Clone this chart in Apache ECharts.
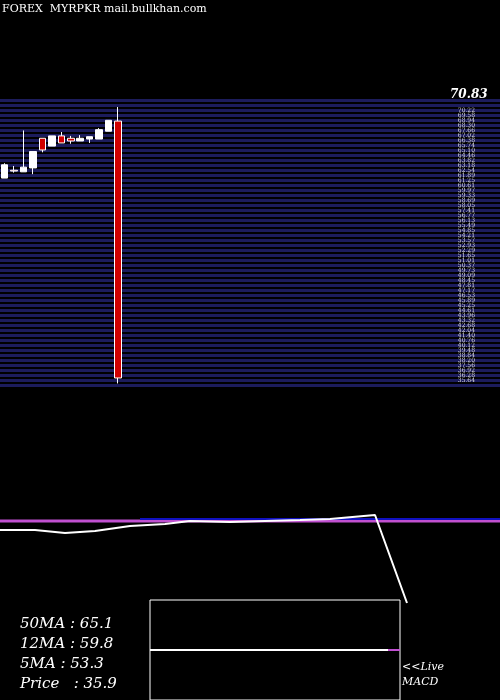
<!DOCTYPE html>
<html><head><meta charset="utf-8">
<script src="https://cdn.jsdelivr.net/npm/echarts@6/dist/echarts.min.js"></script>
<style>html,body{margin:0;background:#000}#c{width:500px;height:700px}</style>
</head><body><div id="c"></div>
<script>
const chart = echarts.init(document.getElementById('c'));

// candles: [open, close, low, high]
const candles = [
  [61.5, 63.2, 61.5, 63.4],
  [62.5, 62.4, 62.2, 63.05],
  [62.3, 62.9, 62.3, 67.6],
  [62.8, 64.9, 62.0, 64.9],
  [66.6, 65.1, 64.8, 66.6],
  [65.6, 66.9, 65.6, 66.9],
  [66.9, 66.0, 66.0, 67.4],
  [66.6, 66.25, 65.9, 66.9],
  [66.25, 66.6, 66.25, 67.0],
  [66.5, 66.8, 66.0, 66.8],
  [66.5, 67.7, 66.5, 67.9],
  [67.5, 68.9, 67.5, 68.9],
  [68.8, 35.9, 35.2, 70.6]
];
const slotCount = 53;
const categories = Array.from({length: slotCount}, (_, i) => String(i));
const priceMin = 35, priceMax = 71.5;
const levelCount = 57;

// MACD panel lines [x, value]
const macdWhite = [[0, 30], [35, 30], [65, 27], [95, 29], [130, 34], [165, 36], [190, 39],
  [230, 38], [265, 39], [300, 40], [330, 41], [375, 45], [407, -43]];
const macdBlue = [[140, 41], [500, 41]];
const macdMagenta = [[0, 39], [500, 39]];
const signalWhite = [[0, 0], [238, 0]];
const signalMagenta = [[238, 0], [250, 0]];

const stats = ['50MA : 65.1', '12MA : 59.8', '5MA : 53.3', 'Price   : 35.9'];

const serif = 'DejaVu Serif';
chart.setOption({
  backgroundColor: '#000',
  animation: false,
  grid: [
    {left: 0, right: 0, top: 100, height: 285},
    {left: 0, right: 0, top: 500, height: 120},
    {left: 150, width: 250, top: 600, height: 110, show: true, borderColor: '#fff', borderWidth: 1, backgroundColor: 'transparent'}
  ],
  xAxis: [
    {type: 'category', gridIndex: 0, data: categories, show: false},
    {type: 'value', gridIndex: 1, min: 0, max: 500, show: false},
    {type: 'value', gridIndex: 2, min: 0, max: 250, show: false}
  ],
  yAxis: [
    {type: 'value', gridIndex: 0, min: priceMin, max: priceMax, show: false},
    {type: 'value', gridIndex: 0, min: 0, max: levelCount, interval: 1, position: 'right',
      axisLine: {show: false}, axisTick: {show: false},
      splitLine: {show: true, lineStyle: {color: '#1c1c5c', width: 3}},
      axisLabel: {inside: true, margin: 25, color: '#ddd', fontSize: 6, fontFamily: serif,
        formatter: v => (v >= levelCount - 1 ? '' : (priceMin + v * (priceMax - priceMin) / levelCount).toFixed(2))}},
    {type: 'value', gridIndex: 1, min: -60, max: 60, show: false},
    {type: 'value', gridIndex: 2, min: -50, max: 50, show: false}
  ],
  series: [
    {type: 'candlestick', xAxisIndex: 0, yAxisIndex: 0, data: candles, barWidth: 7,
      itemStyle: {color: '#fff', borderColor: '#fff', color0: '#d00000', borderColor0: '#fff', borderWidth: 1}},
    {type: 'line', xAxisIndex: 1, yAxisIndex: 2, data: macdMagenta, symbol: 'none', lineStyle: {color: '#c050d0', width: 3}},
    {type: 'line', xAxisIndex: 1, yAxisIndex: 2, data: macdBlue, symbol: 'none', lineStyle: {color: '#1010c0', width: 2}},
    {type: 'line', xAxisIndex: 1, yAxisIndex: 2, data: macdWhite, symbol: 'none', lineStyle: {color: '#fff', width: 2}},
    {type: 'line', xAxisIndex: 2, yAxisIndex: 3, data: signalWhite, symbol: 'none', lineStyle: {color: '#fff', width: 2}},
    {type: 'line', xAxisIndex: 2, yAxisIndex: 3, data: signalMagenta, symbol: 'none', lineStyle: {color: '#c050d0', width: 2}}
  ],
  graphic: [
    {type: 'text', left: 2, top: 4, style: {text: 'FOREX  MYRPKR mail.bullkhan.com', fill: '#fff', font: '11px ' + serif}},
    {type: 'text', left: 450, top: 89, style: {text: '70.83', fill: '#fff', font: 'bold italic 12px ' + serif}},
    ...stats.map((s, i) => ({type: 'text', left: 20, top: 617 + i * 20,
      style: {text: s, fill: '#fff', font: 'italic 15px ' + serif}})),
    {type: 'text', left: 402, top: 660, style: {text: '<<Live\nMACD', fill: '#fff', font: 'italic 11px ' + serif, lineHeight: 15}}
  ]
});
</script></body></html>
